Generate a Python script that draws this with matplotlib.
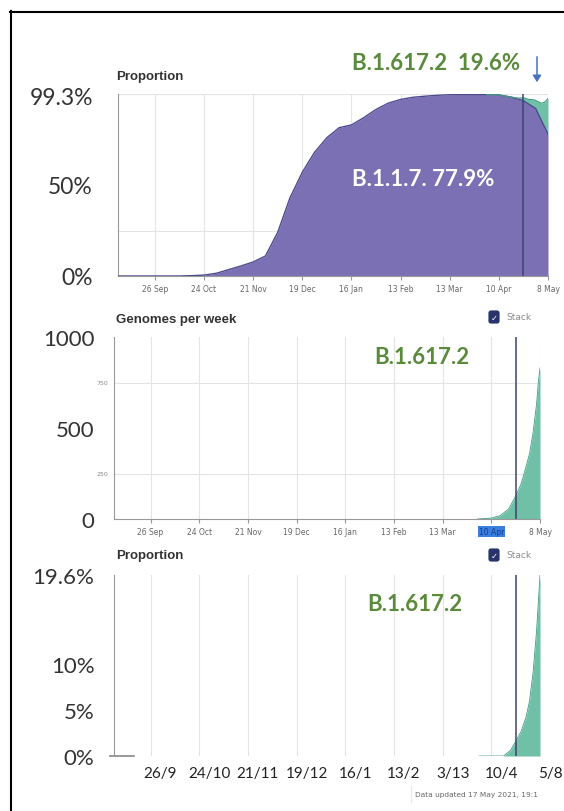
import matplotlib
matplotlib.use("Agg")
import pandas as pd
import matplotlib.pyplot as plt
import matplotlib.transforms as mtransforms
from matplotlib.lines import Line2D
from matplotlib.patches import FancyArrowPatch

W, H, DPI = 564, 812, 100

# B.1.1.7 share of genomes (%), weekly
b117_dates = ["2020-09-05", "2020-09-12", "2020-09-19", "2020-09-26", "2020-10-03",
              "2020-10-10", "2020-10-17", "2020-10-24", "2020-10-31", "2020-11-07",
              "2020-11-14", "2020-11-21", "2020-11-28", "2020-12-05", "2020-12-12",
              "2020-12-19", "2020-12-26", "2021-01-02", "2021-01-09", "2021-01-16",
              "2021-01-23", "2021-01-30", "2021-02-06", "2021-02-13", "2021-02-20",
              "2021-02-27", "2021-03-06", "2021-03-13", "2021-03-20", "2021-03-27",
              "2021-04-03", "2021-04-10", "2021-04-17", "2021-04-24", "2021-05-01",
              "2021-05-08"]
b117_share = [0, 0, 0, 0, 0, 0, 0.2, 0.5, 1.5, 3.5, 5.5, 7.7, 11, 24, 43,
              57, 68, 76, 81.5, 83, 87, 91.5, 95, 97, 98.2, 98.8, 99.3, 99.6,
              99.7, 99.7, 99.7, 99.5, 98.3, 96.3, 92, 77.9]

# B.1.617.2 share of genomes (%)
b16172_share_dates = ["2021-04-03", "2021-04-10", "2021-04-17", "2021-04-21", "2021-04-24",
                      "2021-04-27", "2021-04-30", "2021-05-02", "2021-05-04", "2021-05-06",
                      "2021-05-07", "2021-05-08"]
b16172_share = [0, 0, 0, 0.6, 1.6, 2.6, 4.2, 6.0, 9.0, 13.5, 16.5, 19.6]

# B.1.617.2 genomes per week
b16172_count_dates = ["2021-04-02", "2021-04-10", "2021-04-15", "2021-04-20", "2021-04-24",
                      "2021-04-27", "2021-04-29", "2021-05-02", "2021-05-04", "2021-05-06",
                      "2021-05-07", "2021-05-08"]
b16172_count = [0, 5, 18, 55, 127, 190, 255, 360, 473, 630, 745, 830]

tick_dates = ["2020-09-26", "2020-10-24", "2020-11-21", "2020-12-19", "2021-01-16",
              "2021-02-13", "2021-03-13", "2021-04-10", "2021-05-08"]
tick_labels_en = ["26 Sep", "24 Oct", "21 Nov", "19 Dec", "16 Jan", "13 Feb", "13 Mar", "10 Apr", "8 May"]
tick_labels_num = ["26/9", "24/10", "21/11", "19/12", "16/1", "13/2", "3/13", "10/4", "5/8"]
selected_date = "2021-04-24"

PURPLE = "#7c70b4"
PURPLE_EDGE = "#4b4b8e"
TEAL = "#6fc0a6"
TEAL_EDGE = "#3f9c82"
GREEN = "#5a8a3c"
GRID = "#e4e4e4"
AXIS = "#999999"
BIG = ["Lato", "DejaVu Sans"]

x117 = pd.to_datetime(b117_dates)
xs = pd.to_datetime(b16172_share_dates)
xc = pd.to_datetime(b16172_count_dates)
ticks = pd.to_datetime(tick_dates)
xlim = (pd.Timestamp("2020-09-05"), pd.Timestamp("2021-05-08"))

fig = plt.figure(figsize=(W / DPI, H / DPI), dpi=DPI)


def px_axes(l, t, r, b):
    return fig.add_axes([l / W, 1 - b / H, (r - l) / W, (b - t) / H])


def fx(x):
    return x / W


def fy(y):
    return 1 - y / H


def style(ax, ylim):
    ax.set_xlim(*xlim)
    ax.set_ylim(*ylim)
    for s in ["top", "right"]:
        ax.spines[s].set_visible(False)
    ax.spines["left"].set_color(AXIS)
    ax.spines["bottom"].set_color(AXIS)
    ax.set_xticks(ticks)
    ax.grid(True, axis="x", color=GRID, lw=0.8)
    ax.grid(True, axis="y", which="minor", color=GRID, lw=0.8)
    ax.set_axisbelow(True)
    ax.axvline(pd.Timestamp(selected_date), color="#3d4270", lw=1.1, zorder=5)


# ---- panel 1: proportion, stacked ----
ax1 = px_axes(118, 95, 548, 277)
style(ax1, (0, 100))
ax1.fill_between(x117, 0, b117_share, color=PURPLE, lw=0, zorder=2)
ax1.plot(x117, b117_share, color=PURPLE_EDGE, lw=1, zorder=3)
base = pd.Series(b117_share, index=x117).reindex(x117.union(xs)).interpolate("time").loc[xs].values
top = base + pd.Series(b16172_share).values
ax1.fill_between(xs, base, top, color=TEAL, lw=0, zorder=2)
ax1.plot(xs, top, color=TEAL_EDGE, lw=0.8, zorder=3)
ax1.set_xticklabels(tick_labels_en, fontsize=5.5, color="#666666")
ax1.tick_params(axis="x", length=3, color=AXIS, pad=3)
ax1.set_yticks([0, 50, 99.3])
ax1.set_yticklabels(["0%", "50%", "99.3%"], fontsize=16.5, color="#333333", family=BIG)
ax1.set_yticks([25, 50, 100], minor=True)
ax1.tick_params(axis="y", which="major", length=0, pad=18)
ax1.tick_params(axis="y", which="minor", length=0, labelleft=False)

# ---- panel 2: genomes per week ----
ax2 = px_axes(114, 338, 540, 520)
style(ax2, (0, 1000))
ax2.fill_between(xc, 0, b16172_count, color=TEAL, lw=0, zorder=2)
ax2.plot(xc, b16172_count, color=TEAL_EDGE, lw=0.6, zorder=3)
ax2.set_xticklabels(tick_labels_en, fontsize=5.5, color="#666666")
ax2.tick_params(axis="x", length=3, color=AXIS, pad=3)
sel = ax2.get_xticklabels()[7]
sel.set_bbox(dict(facecolor="#3a7ee0", edgecolor="none", pad=0.6))
sel.set_color("#1b3a86")
ax2.set_yticks([0, 500, 1000])
ax2.set_yticklabels(["0", "500", "1000"], fontsize=16, color="#333333", family=BIG)
ax2.set_yticks([250, 500, 750, 1000], minor=True)
ax2.set_yticklabels(["250", "", "750", ""], minor=True, fontsize=4.5, color="#888888")
ax2.tick_params(axis="y", which="major", length=0, pad=14)
ax2.tick_params(axis="y", which="minor", length=0, pad=4)

# ---- panel 3: proportion of B.1.617.2 ----
ax3 = px_axes(114, 576, 540, 757)
style(ax3, (0, 19.6))
ax3.spines["bottom"].set_visible(False)
ax3.fill_between(xs, 0, b16172_share, color=TEAL, lw=0, zorder=2)
ax3.plot(xs, b16172_share, color=TEAL_EDGE, lw=0.6, zorder=3)
ax3.set_xticklabels(tick_labels_num, fontsize=11, color="#222222", family=BIG)
ax3.tick_params(axis="x", length=0, pad=7)
shift = mtransforms.ScaledTranslation(10 / DPI, 0, fig.dpi_scale_trans)
for lab in ax3.get_xticklabels():
    lab.set_transform(lab.get_transform() + shift)
ax3.set_yticks([0, 5, 10, 19.6])
ax3.set_yticklabels(["0%", "5%", "10%", "19.6%"], fontsize=16, color="#333333", family=BIG)
ax3.set_yticks([5, 10], minor=True)
ax3.tick_params(axis="y", which="major", length=0, pad=14)
ax3.tick_params(axis="y", which="minor", length=0, labelleft=False)
ax3.plot([-0.01, 0.047], [0, 0], color="#888888", lw=1.2,
         transform=ax3.get_yaxis_transform(), clip_on=False)

# ---- titles, stack toggles ----
for title, y in [("Proportion", 77), ("Genomes per week", 320), ("Proportion", 556)]:
    fig.text(fx(116), fy(y), title, fontsize=9.5, fontweight="bold", color="#333333",
             family="Liberation Sans", va="center")
for y in [318, 556]:
    fig.text(fx(494), fy(y), "\u2713", fontsize=6, color="white", ha="center", va="center",
             fontweight="bold",
             bbox=dict(boxstyle="round,pad=0.25,rounding_size=0.3", facecolor="#27336b", edgecolor="none"))
    fig.text(fx(506), fy(y), "Stack", fontsize=6.5, color="#8a8a8a", va="center")

# ---- overlay annotations ----
fig.text(fx(352), fy(63), "B.1.617.2  19.6%", fontsize=16, fontweight="bold", color=GREEN,
         family=BIG, va="center")
fig.text(fx(352), fy(180), "B.1.1.7. 77.9%", fontsize=16, fontweight="bold", color="white",
         family=BIG, va="center")
fig.text(fx(374), fy(358), "B.1.617.2", fontsize=16, fontweight="bold", color=GREEN,
         family=BIG, va="center")
fig.text(fx(367), fy(605), "B.1.617.2", fontsize=16, fontweight="bold", color=GREEN,
         family=BIG, va="center")
fig.add_artist(FancyArrowPatch(
    (fx(537), fy(55)), (fx(537), fy(86)), transform=fig.transFigure,
    arrowstyle="-|>,head_length=4,head_width=2.5", color="#4a72c0", lw=1.1))

fig.add_artist(Line2D([fx(411), fx(411)], [fy(787), fy(803)], color="#e6e6e6", lw=0.8))
fig.text(fx(415), fy(795), "Data updated 17 May 2021, 19:1", fontsize=5.3, color="#666666",
         va="center")

# frame
fig.add_artist(Line2D([fx(10), fx(564)], [fy(13), fy(13)], color="black", lw=1.5))
fig.add_artist(Line2D([fx(11), fx(11)], [fy(12), fy(812)], color="black", lw=1.5))

fig.savefig("out.png", dpi=DPI)
